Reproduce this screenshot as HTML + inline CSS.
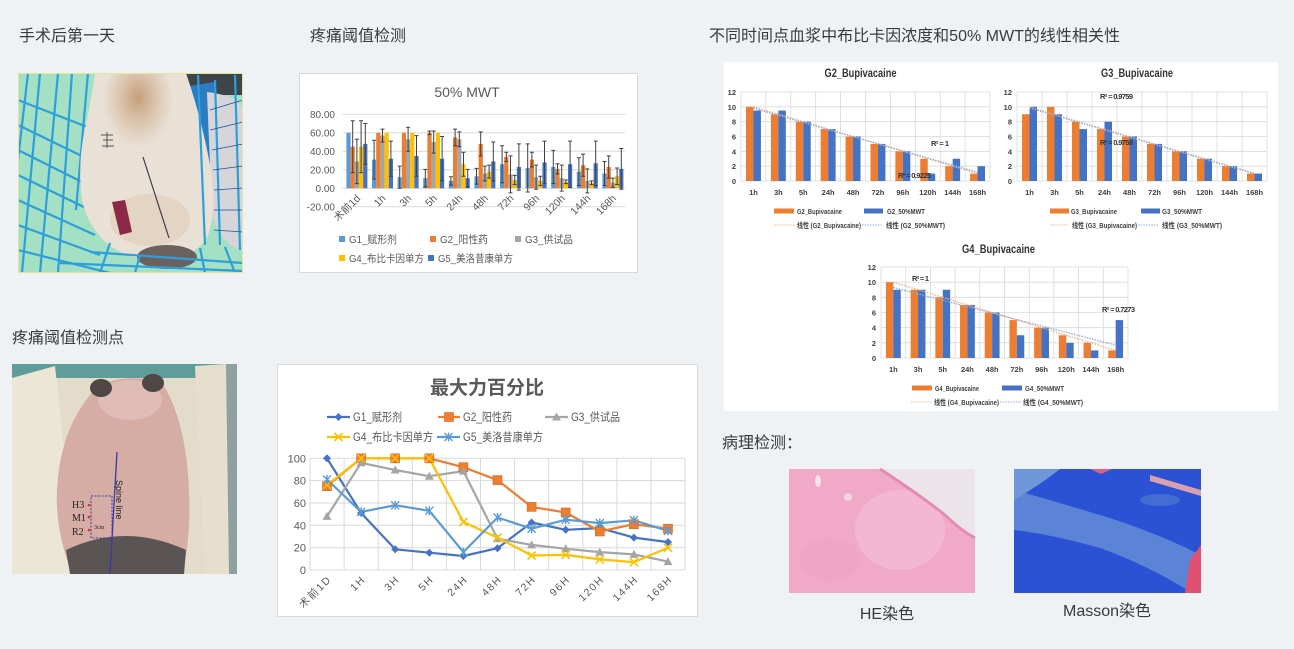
<!DOCTYPE html>
<html><head><meta charset="utf-8"><style>
html,body{margin:0;padding:0;background:#eff2f5;}
svg{display:block;font-family:"Liberation Sans","Noto Sans CJK SC",sans-serif;}
.n{font-family:"Liberation Sans Narrow","Liberation Sans","Noto Sans CJK SC",sans-serif;}
</style></head><body>
<svg width="1294" height="649" viewBox="0 0 1294 649" xmlns="http://www.w3.org/2000/svg">
<defs>
<clipPath id="p1"><rect x="18" y="73" width="225" height="200"/></clipPath>
<clipPath id="p2"><rect x="12" y="364" width="225" height="210"/></clipPath>
<clipPath id="p3"><rect x="1014" y="469" width="187" height="124"/></clipPath>
<radialGradient id="br" cx="0.5" cy="0.4" r="0.5">
<stop offset="0" stop-color="#b9875a" stop-opacity="0.75"/>
<stop offset="1" stop-color="#c9a07a" stop-opacity="0"/>
</radialGradient>
<radialGradient id="ml" cx="0.5" cy="0.5" r="0.5">
<stop offset="0" stop-color="#7fa6e0" stop-opacity="0.9"/>
<stop offset="1" stop-color="#7fa6e0" stop-opacity="0"/>
</radialGradient>
<g id="mD"><path d="M0 -4L4 0L0 4L-4 0Z" fill="#4472C4"/></g>
<g id="mS"><rect x="-4.5" y="-4.5" width="9" height="9" fill="#ED7D31" stroke="#d86a20" stroke-width=".6"/></g>
<g id="mT"><path d="M0 -4.5L4.5 3.5H-4.5Z" fill="#A5A5A5"/></g>
<g id="mX"><path d="M-4 -4L4 4M-4 4L4 -4" stroke="#FFC000" stroke-width="1.6"/></g>
<g id="mA"><path d="M-4 -4L4 4M-4 4L4 -4M0 -4.5V4.5" stroke="#5B9BD5" stroke-width="1.4"/></g>
</defs>
<rect width="1294" height="649" fill="#eff2f5"/>

<!-- Section titles -->
<g font-size="16" fill="#3a3a3a">
<text x="19" y="41">手术后第一天</text>
<text x="310" y="41">疼痛阈值检测</text>
<text x="709" y="41" textLength="411" lengthAdjust="spacingAndGlyphs">不同时间点血浆中布比卡因浓度和50% MWT的线性相关性</text>
<text x="12" y="343">疼痛阈值检测点</text>
<text x="722" y="448">病理检测：</text>
<text x="887" y="619" text-anchor="middle">HE染色</text>
<text x="1107" y="616" text-anchor="middle">Masson染色</text>
</g>

<!-- Photo 1 -->
<g clip-path="url(#p1)">
<rect x="18" y="73" width="225" height="200" fill="#a3e0c4"/>
<path d="M175 73H243V95H175Z" fill="#3d4549"/>
<path d="M178 88L214 82L220 195L182 205Z" fill="#2c7cc4"/>
<path d="M207 92Q240 96 243 110V250Q222 246 212 215Z" fill="#d6d6da"/>
<g stroke="#2f9fda" stroke-width="2.2" fill="none">
<path d="M40 73L22 273M58 73L40 273M72 73L58 273M88 73L76 210M28 73L18 160"/>
<path d="M18 100L95 130M18 125L90 160M18 150L88 185M18 175L90 210M18 200L95 235M18 225L100 255M18 250L110 273"/>
</g>
<path d="M95 73H186Q202 120 210 165Q218 210 207 238Q192 258 165 262Q135 262 110 246Q88 228 82 200Q77 160 86 125Q92 95 95 73Z" fill="#e9e1d6"/>
<ellipse cx="138" cy="108" rx="36" ry="50" fill="url(#br)"/>
<ellipse cx="150" cy="220" rx="40" ry="26" fill="#dcc6ac" opacity="0.45"/>
<ellipse cx="167" cy="257" rx="30" ry="12" fill="#6b6260"/>
<path d="M143 157L169 238" stroke="#3a3a4a" stroke-width="1.2" fill="none"/>
<path d="M112 202L125 200L132 232L120 235Z" fill="#8a2a48"/>
<path d="M101 135h12M103 140h10M102 146h12M107 132v16" stroke="#555" stroke-width="1" fill="none"/>
<g stroke="#2f9fda" stroke-width="2.2" fill="none">
<path d="M90 252L243 263M60 263L243 271M110 243L100 273M140 255L135 273M200 248L205 273M225 247L235 273"/>
<path d="M198 75L205 245M215 80L220 245M235 75L240 250"/>
</g>
<g stroke="#1f4f8f" stroke-width="0.8" fill="none">
<path d="M210 110L243 100M210 130L243 122M212 150L243 144M213 170L243 166M214 190L243 188M214 210L243 210M214 230L243 232"/>
</g>
</g>
<rect x="18.5" y="73.5" width="224" height="199" fill="none" stroke="#e6e49a"/>

<!-- Photo 2 -->
<g clip-path="url(#p2)">
<rect x="12" y="364" width="225" height="210" fill="#e3dccb"/>
<path d="M12 364H237V378H12Z" fill="#5f9c9a"/>
<path d="M12 378L55 366L78 574H12Z" fill="#ece6d7"/>
<path d="M195 366L225 364L237 370V574H205Z" fill="#e6dfce"/>
<path d="M226 364H237V574H229Z" fill="#8fa0a0"/>
<path d="M98 386Q128 372 162 383Q186 420 189 490Q191 540 182 574H72Q55 530 57 490Q60 425 98 386Z" fill="#d5ada5"/>
<ellipse cx="130" cy="400" rx="32" ry="20" fill="#dfbdb6"/>
<ellipse cx="101" cy="388" rx="11" ry="9" fill="#4f4646"/>
<ellipse cx="153" cy="383" rx="11" ry="9" fill="#4f4646"/>
<path d="M66 550Q125 522 186 550L184 574H70Z" fill="#5a5454"/>
<path d="M117 452L110 574" stroke="#3a3aa8" stroke-width="1.3"/>
<rect x="91" y="496" width="21" height="42" fill="none" stroke="#3a3aa8" stroke-dasharray="2 1.5"/>
<circle cx="89" cy="505" r="1.3" fill="#e03030"/>
<circle cx="89" cy="517" r="1.3" fill="#e03030"/>
<circle cx="89" cy="530" r="1.3" fill="#e03030"/>
<g font-family="Liberation Serif,serif" font-size="10" fill="#222">
<text x="72" y="508">H3</text><text x="72" y="521">M1</text><text x="72" y="535">R2</text>
<text x="94" y="529" font-size="6">3cm</text>
<text transform="translate(116,480) rotate(90)" font-size="9" font-family="Liberation Sans,sans-serif">Spine line</text>
</g>
</g>

<!-- Chart A: 50% MWT -->
<rect x="299.5" y="73.5" width="338" height="199" fill="#fff" stroke="#d9d9d9"/>
<text x="467" y="97" text-anchor="middle" font-size="14" fill="#595959">50% MWT</text>
<path d="M343 114.3H625M343 132.8H625M343 151.3H625M343 169.8H625M343 188.3H625M343 206.8H625" stroke="#d9d9d9" stroke-width="1"/>
<g font-size="10" fill="#595959" text-anchor="end">
<text x="335" y="117.8">80.00</text><text x="335" y="136.3">60.00</text><text x="335" y="154.8">40.00</text><text x="335" y="173.3">20.00</text><text x="335" y="191.8">0.00</text><text x="335" y="210.3">-20.00</text>
</g>
<g transform="translate(0,188.3) scale(1,-0.925)">
<g fill="#5B9BD5">
<rect x="346.4" y="0" width="4.2" height="60"/><rect x="372.0" y="0" width="4.2" height="31"/><rect x="397.6" y="0" width="4.2" height="12"/><rect x="423.2" y="0" width="4.2" height="11"/><rect x="448.8" y="0" width="4.2" height="8"/><rect x="474.4" y="0" width="4.2" height="13"/><rect x="500.0" y="0" width="4.2" height="26"/><rect x="525.6" y="0" width="4.2" height="22"/><rect x="551.2" y="0" width="4.2" height="23"/><rect x="576.8" y="0" width="4.2" height="18"/><rect x="602.4" y="0" width="4.2" height="16"/>
</g>
<g fill="#ED7D31">
<rect x="350.6" y="0" width="4.2" height="45"/><rect x="376.2" y="0" width="4.2" height="60"/><rect x="401.8" y="0" width="4.2" height="60"/><rect x="427.4" y="0" width="4.2" height="60"/><rect x="453.0" y="0" width="4.2" height="55"/><rect x="478.6" y="0" width="4.2" height="48"/><rect x="504.2" y="0" width="4.2" height="34"/><rect x="529.8" y="0" width="4.2" height="31"/><rect x="555.4" y="0" width="4.2" height="21"/><rect x="581.0" y="0" width="4.2" height="25"/><rect x="606.6" y="0" width="4.2" height="23"/>
</g>
<g fill="#A5A5A5">
<rect x="354.8" y="0" width="4.2" height="29"/><rect x="380.4" y="0" width="4.2" height="57"/><rect x="406.0" y="0" width="4.2" height="53"/><rect x="431.6" y="0" width="4.2" height="50"/><rect x="457.2" y="0" width="4.2" height="53"/><rect x="482.8" y="0" width="4.2" height="16"/><rect x="508.4" y="0" width="4.2" height="15"/><rect x="534.0" y="0" width="4.2" height="12"/><rect x="559.6" y="0" width="4.2" height="11"/><rect x="585.2" y="0" width="4.2" height="8"/><rect x="610.8" y="0" width="4.2" height="6"/>
</g>
<g fill="#FFC000">
<rect x="359.0" y="0" width="4.2" height="45"/><rect x="384.6" y="0" width="4.2" height="60"/><rect x="410.2" y="0" width="4.2" height="60"/><rect x="435.8" y="0" width="4.2" height="60"/><rect x="461.4" y="0" width="4.2" height="26"/><rect x="487.0" y="0" width="4.2" height="18"/><rect x="512.6" y="0" width="4.2" height="9"/><rect x="538.2" y="0" width="4.2" height="8"/><rect x="563.8" y="0" width="4.2" height="7"/><rect x="589.4" y="0" width="4.2" height="6"/><rect x="615.0" y="0" width="4.2" height="13"/>
</g>
<g fill="#4472C4">
<rect x="363.2" y="0" width="4.2" height="48"/><rect x="388.8" y="0" width="4.2" height="32"/><rect x="414.4" y="0" width="4.2" height="35"/><rect x="440.0" y="0" width="4.2" height="32"/><rect x="465.6" y="0" width="4.2" height="11"/><rect x="491.2" y="0" width="4.2" height="29"/><rect x="516.8" y="0" width="4.2" height="23"/><rect x="542.4" y="0" width="4.2" height="28"/><rect x="568.0" y="0" width="4.2" height="26"/><rect x="593.6" y="0" width="4.2" height="27"/><rect x="619.2" y="0" width="4.2" height="21"/>
</g>
<path vector-effect="non-scaling-stroke" stroke="#404040" stroke-width="1" fill="none" d="M352.7 17V73M350.7 17H354.7M350.7 73H354.7M356.9 5V53M354.9 5H358.9M354.9 53H358.9M361.1 17V73M359.1 17H363.1M359.1 73H363.1M365.3 26V70M363.3 26H367.3M363.3 70H367.3M374.1 10V52M372.1 10H376.1M372.1 52H376.1M382.5 50V64M380.5 50H384.5M380.5 64H384.5M390.9 13V51M388.9 13H392.9M388.9 51H392.9M399.7 0V24M397.7 0H401.7M397.7 24H401.7M408.1 40V66M406.1 40H410.1M406.1 66H410.1M416.5 13V57M414.5 13H418.5M414.5 57H418.5M425.3 1.5V20.5M423.3 1.5H427.3M423.3 20.5H427.3M429.5 58V62M427.5 58H431.5M427.5 62H431.5M433.7 38V62M431.7 38H435.7M431.7 62H435.7M442.1 8V56M440.1 8H444.1M440.1 56H444.1M450.9 3.5V12.5M448.9 3.5H452.9M448.9 12.5H452.9M455.1 46V64M453.1 46H457.1M453.1 64H457.1M459.3 45V61M457.3 45H461.3M457.3 61H461.3M463.5 13V39M461.5 13H465.5M461.5 39H465.5M467.7 1.5V20.5M465.7 1.5H469.7M465.7 20.5H469.7M476.5 4.5V21.5M474.5 4.5H478.5M474.5 21.5H478.5M480.7 35V61M478.7 35H482.7M478.7 61H482.7M484.9 8V24M482.9 8H486.9M482.9 24H486.9M489.1 11V25M487.1 11H491.1M487.1 25H491.1M493.3 8V50M491.3 8H495.3M491.3 50H495.3M502.1 6V46M500.1 6H504.1M500.1 46H504.1M506.3 29V39M504.3 29H508.3M504.3 39H508.3M510.5 -5V35M508.5 -5H512.5M508.5 35H512.5M514.7 4V14M512.7 4H516.7M512.7 14H516.7M518.9 -2V48M516.9 -2H520.9M516.9 48H520.9M527.7 -4V48M525.7 -4H529.7M525.7 48H529.7M531.9 23V39M529.9 23H533.9M529.9 39H533.9M536.1 -1V25M534.1 -1H538.1M534.1 25H538.1M540.3 3V13M538.3 3H542.3M538.3 13H542.3M544.5 5V51M542.5 5H546.5M542.5 51H546.5M553.3 5V41M551.3 5H555.3M551.3 41H555.3M557.5 15.5V26.5M555.5 15.5H559.5M555.5 26.5H559.5M561.7 -3V25M559.7 -3H563.7M559.7 25H563.7M565.9 5V9M563.9 5H567.9M563.9 9H567.9M570.1 1V51M568.1 1H572.1M568.1 51H572.1M578.9 3V33M576.9 3H580.9M576.9 33H580.9M583.1 13V37M581.1 13H585.1M581.1 37H585.1M587.3 -5V21M585.3 -5H589.3M585.3 21H589.3M591.5 4V8M589.5 4H593.5M589.5 8H593.5M595.7 3V51M593.7 3H597.7M593.7 51H597.7M604.5 3V29M602.5 3H606.5M602.5 29H606.5M608.7 11V35M606.7 11H610.7M606.7 35H610.7M612.9 1V11M610.9 1H614.9M610.9 11H614.9M617.1 4V22M615.1 4H619.1M615.1 22H619.1M621.3 -1V43M619.3 -1H623.3M619.3 43H623.3"/>
</g>
<g font-size="10.5" fill="#595959" text-anchor="end">
<text transform="translate(361,199) rotate(-45)">术前1d</text>
<text transform="translate(386.4,199) rotate(-45)">1h</text>
<text transform="translate(412,199) rotate(-45)">3h</text>
<text transform="translate(437.6,199) rotate(-45)">5h</text>
<text transform="translate(463.2,199) rotate(-45)">24h</text>
<text transform="translate(488.8,199) rotate(-45)">48h</text>
<text transform="translate(514.4,199) rotate(-45)">72h</text>
<text transform="translate(540,199) rotate(-45)">96h</text>
<text transform="translate(565.6,199) rotate(-45)">120h</text>
<text transform="translate(591.2,199) rotate(-45)">144h</text>
<text transform="translate(616.8,199) rotate(-45)">168h</text>
</g>
<g font-size="10.5" fill="#595959">
<rect x="339" y="236" width="6" height="6" fill="#5B9BD5"/><text x="349" y="243" textLength="48" lengthAdjust="spacingAndGlyphs">G1_赋形剂</text>
<rect x="430" y="236" width="6" height="6" fill="#ED7D31"/><text x="440" y="243" textLength="48" lengthAdjust="spacingAndGlyphs">G2_阳性药</text>
<rect x="515" y="236" width="6" height="6" fill="#A5A5A5"/><text x="525" y="243" textLength="48" lengthAdjust="spacingAndGlyphs">G3_供试品</text>
<rect x="339" y="255" width="6" height="6" fill="#FFC000"/><text x="349" y="262" textLength="75" lengthAdjust="spacingAndGlyphs">G4_布比卡因单方</text>
<rect x="428" y="255" width="6" height="6" fill="#4472C4"/><text x="438" y="262" textLength="75" lengthAdjust="spacingAndGlyphs">G5_美洛昔康单方</text>
</g>

<!-- Chart B: line chart -->
<rect x="277.5" y="364.5" width="420" height="252" fill="#fff" stroke="#d9d9d9"/>
<text x="487" y="394" text-anchor="middle" font-size="19" font-weight="bold" fill="#595959">最大力百分比</text>
<path d="M310 570H685M310 547.7H685M310 525.3H685M310 503H685M310 480.6H685M310 458.3H685M310 458.3V570M344.1 458.3V570M378.2 458.3V570M412.3 458.3V570M446.4 458.3V570M480.5 458.3V570M514.6 458.3V570M548.7 458.3V570M582.8 458.3V570M616.9 458.3V570M651 458.3V570M685 458.3V570" stroke="#d9d9d9" stroke-width="1" fill="none"/>
<g font-size="11" fill="#595959" text-anchor="end">
<text x="306" y="574">0</text><text x="306" y="551.7">20</text><text x="306" y="529.3">40</text><text x="306" y="507">60</text><text x="306" y="484.6">80</text><text x="306" y="462.3">100</text>
</g>
<g font-size="10.5" fill="#595959" text-anchor="end" letter-spacing="1.5">
<text transform="translate(332,580) rotate(-45)">术前1D</text>
<text transform="translate(366.1,580) rotate(-45)">1H</text>
<text transform="translate(400.2,580) rotate(-45)">3H</text>
<text transform="translate(434.3,580) rotate(-45)">5H</text>
<text transform="translate(468.4,580) rotate(-45)">24H</text>
<text transform="translate(502.5,580) rotate(-45)">48H</text>
<text transform="translate(536.6,580) rotate(-45)">72H</text>
<text transform="translate(570.7,580) rotate(-45)">96H</text>
<text transform="translate(604.8,580) rotate(-45)">120H</text>
<text transform="translate(638.9,580) rotate(-45)">144H</text>
<text transform="translate(673,580) rotate(-45)">168H</text>
</g>
<g fill="none" stroke-width="2.2" stroke-linejoin="round">
<polyline stroke="#4472C4" points="327,458.3 361.1,513 395.2,549.3 429.3,552.7 463.4,556 497.5,548.2 531.6,522.5 565.7,529.8 599.8,528.1 633.9,537.6 668,542.1"/>
<polyline stroke="#ED7D31" points="327,486.2 361.1,458.3 395.2,458.3 429.3,458.3 463.4,467.2 497.5,480.1 531.6,506.9 565.7,512.5 599.8,531.5 633.9,524.2 668,528.7"/>
<polyline stroke="#A5A5A5" points="327,516.4 361.1,462.8 395.2,470 429.3,476.2 463.4,471.1 497.5,538.7 531.6,544.9 565.7,548.8 599.8,552.1 633.9,554.4 668,561.6"/>
<polyline stroke="#FFC000" points="327,485.1 361.1,458.3 395.2,458.3 429.3,458.3 463.4,522 497.5,537.6 531.6,555.5 565.7,554.9 599.8,559.4 633.9,562.2 668,547.7"/>
<polyline stroke="#5B9BD5" points="327,479.5 361.1,511.9 395.2,505.2 429.3,510.8 463.4,552.1 497.5,517.5 531.6,528.7 565.7,519.7 599.8,523.1 633.9,520.3 668,530.9"/>
</g>
<use href="#mD" x="327" y="458.3"/><use href="#mD" x="361.1" y="513"/><use href="#mD" x="395.2" y="549.3"/><use href="#mD" x="429.3" y="552.7"/><use href="#mD" x="463.4" y="556"/><use href="#mD" x="497.5" y="548.2"/><use href="#mD" x="531.6" y="522.5"/><use href="#mD" x="565.7" y="529.8"/><use href="#mD" x="599.8" y="528.1"/><use href="#mD" x="633.9" y="537.6"/><use href="#mD" x="668" y="542.1"/>
<use href="#mS" x="327" y="486.2"/><use href="#mS" x="361.1" y="458.3"/><use href="#mS" x="395.2" y="458.3"/><use href="#mS" x="429.3" y="458.3"/><use href="#mS" x="463.4" y="467.2"/><use href="#mS" x="497.5" y="480.1"/><use href="#mS" x="531.6" y="506.9"/><use href="#mS" x="565.7" y="512.5"/><use href="#mS" x="599.8" y="531.5"/><use href="#mS" x="633.9" y="524.2"/><use href="#mS" x="668" y="528.7"/>
<use href="#mT" x="327" y="516.4"/><use href="#mT" x="361.1" y="462.8"/><use href="#mT" x="395.2" y="470"/><use href="#mT" x="429.3" y="476.2"/><use href="#mT" x="463.4" y="471.1"/><use href="#mT" x="497.5" y="538.7"/><use href="#mT" x="531.6" y="544.9"/><use href="#mT" x="565.7" y="548.8"/><use href="#mT" x="599.8" y="552.1"/><use href="#mT" x="633.9" y="554.4"/><use href="#mT" x="668" y="561.6"/>
<use href="#mX" x="327" y="485.1"/><use href="#mX" x="361.1" y="458.3"/><use href="#mX" x="395.2" y="458.3"/><use href="#mX" x="429.3" y="458.3"/><use href="#mX" x="463.4" y="522"/><use href="#mX" x="497.5" y="537.6"/><use href="#mX" x="531.6" y="555.5"/><use href="#mX" x="565.7" y="554.9"/><use href="#mX" x="599.8" y="559.4"/><use href="#mX" x="633.9" y="562.2"/><use href="#mX" x="668" y="547.7"/>
<use href="#mA" x="327" y="479.5"/><use href="#mA" x="361.1" y="511.9"/><use href="#mA" x="395.2" y="505.2"/><use href="#mA" x="429.3" y="510.8"/><use href="#mA" x="463.4" y="552.1"/><use href="#mA" x="497.5" y="517.5"/><use href="#mA" x="531.6" y="528.7"/><use href="#mA" x="565.7" y="519.7"/><use href="#mA" x="599.8" y="523.1"/><use href="#mA" x="633.9" y="520.3"/><use href="#mA" x="668" y="530.9"/>
<!-- legend B -->
<g stroke-width="2.2">
<path d="M327 417H350" stroke="#4472C4"/><path d="M438 417H460" stroke="#ED7D31"/><path d="M545 417H568" stroke="#A5A5A5"/>
<path d="M327 437H350" stroke="#FFC000"/><path d="M437 437H460" stroke="#5B9BD5"/>
</g>
<use href="#mD" x="338.5" y="417"/><use href="#mS" x="449" y="417"/><use href="#mT" x="556.5" y="417"/><use href="#mX" x="338.5" y="437"/><use href="#mA" x="448.5" y="437"/>
<g font-size="11.5" fill="#595959">
<text x="353" y="421" textLength="49" lengthAdjust="spacingAndGlyphs">G1_赋形剂</text><text x="463" y="421" textLength="49" lengthAdjust="spacingAndGlyphs">G2_阳性药</text><text x="571" y="421" textLength="49" lengthAdjust="spacingAndGlyphs">G3_供试品</text>
<text x="353" y="441" textLength="80" lengthAdjust="spacingAndGlyphs">G4_布比卡因单方</text><text x="463" y="441" textLength="80" lengthAdjust="spacingAndGlyphs">G5_美洛昔康单方</text>
</g>

<!-- Right panel -->
<rect x="724" y="62" width="554" height="349" fill="#fff"/>
<g stroke="#d9d9d9" stroke-width="0.8" fill="none">
<path d="M741 181H990M741 166.2H990M741 151.3H990M741 136.5H990M741 121.7H990M741 106.8H990M741 92H990M741 92V181M765.9 92V181M790.8 92V181M815.7 92V181M840.6 92V181M865.5 92V181M890.4 92V181M915.3 92V181M940.2 92V181M965.1 92V181M990 92V181"/>
<path d="M1017 181H1267M1017 166.2H1267M1017 151.3H1267M1017 136.5H1267M1017 121.7H1267M1017 106.8H1267M1017 92H1267M1017 92V181M1042 92V181M1067 92V181M1092 92V181M1117 92V181M1142 92V181M1167 92V181M1192 92V181M1217 92V181M1242 92V181M1267 92V181"/>
<path d="M881 358H1128M881 342.8H1128M881 327.7H1128M881 312.5H1128M881 297.3H1128M881 282.2H1128M881 267H1128M881 267V358M905.7 267V358M930.4 267V358M955.1 267V358M979.8 267V358M1004.5 267V358M1029.2 267V358M1053.9 267V358M1078.6 267V358M1103.3 267V358M1128 267V358"/>
</g>
<!-- G2 bars -->
<g transform="translate(741,181) scale(24.9,-7.417)">
<g fill="#ED7D31"><rect x="0.2" y="0" width="0.3" height="10"/><rect x="1.2" y="0" width="0.3" height="9"/><rect x="2.2" y="0" width="0.3" height="8"/><rect x="3.2" y="0" width="0.3" height="7"/><rect x="4.2" y="0" width="0.3" height="6"/><rect x="5.2" y="0" width="0.3" height="5"/><rect x="6.2" y="0" width="0.3" height="4"/><rect x="7.2" y="0" width="0.3" height="3"/><rect x="8.2" y="0" width="0.3" height="2"/><rect x="9.2" y="0" width="0.3" height="1"/></g>
<g fill="#4472C4"><rect x="0.5" y="0" width="0.3" height="9.5"/><rect x="1.5" y="0" width="0.3" height="9.5"/><rect x="2.5" y="0" width="0.3" height="8"/><rect x="3.5" y="0" width="0.3" height="7"/><rect x="4.5" y="0" width="0.3" height="6"/><rect x="5.5" y="0" width="0.3" height="5"/><rect x="6.5" y="0" width="0.3" height="4"/><rect x="7.5" y="0" width="0.3" height="1"/><rect x="8.5" y="0" width="0.3" height="3"/><rect x="9.5" y="0" width="0.3" height="2"/></g>
</g>
<!-- G3 bars -->
<g transform="translate(1017,181) scale(25,-7.417)">
<g fill="#ED7D31"><rect x="0.2" y="0" width="0.3" height="9"/><rect x="1.2" y="0" width="0.3" height="10"/><rect x="2.2" y="0" width="0.3" height="8"/><rect x="3.2" y="0" width="0.3" height="7"/><rect x="4.2" y="0" width="0.3" height="6"/><rect x="5.2" y="0" width="0.3" height="5"/><rect x="6.2" y="0" width="0.3" height="4"/><rect x="7.2" y="0" width="0.3" height="3"/><rect x="8.2" y="0" width="0.3" height="2"/><rect x="9.2" y="0" width="0.3" height="1"/></g>
<g fill="#4472C4"><rect x="0.5" y="0" width="0.3" height="10"/><rect x="1.5" y="0" width="0.3" height="9"/><rect x="2.5" y="0" width="0.3" height="7"/><rect x="3.5" y="0" width="0.3" height="8"/><rect x="4.5" y="0" width="0.3" height="6"/><rect x="5.5" y="0" width="0.3" height="5"/><rect x="6.5" y="0" width="0.3" height="4"/><rect x="7.5" y="0" width="0.3" height="3"/><rect x="8.5" y="0" width="0.3" height="2"/><rect x="9.5" y="0" width="0.3" height="1"/></g>
</g>
<!-- G4 bars -->
<g transform="translate(881,358) scale(24.7,-7.583)">
<g fill="#ED7D31"><rect x="0.2" y="0" width="0.3" height="10"/><rect x="1.2" y="0" width="0.3" height="9"/><rect x="2.2" y="0" width="0.3" height="8"/><rect x="3.2" y="0" width="0.3" height="7"/><rect x="4.2" y="0" width="0.3" height="6"/><rect x="5.2" y="0" width="0.3" height="5"/><rect x="6.2" y="0" width="0.3" height="4"/><rect x="7.2" y="0" width="0.3" height="3"/><rect x="8.2" y="0" width="0.3" height="2"/><rect x="9.2" y="0" width="0.3" height="1"/></g>
<g fill="#4472C4"><rect x="0.5" y="0" width="0.3" height="9"/><rect x="1.5" y="0" width="0.3" height="9"/><rect x="2.5" y="0" width="0.3" height="9"/><rect x="3.5" y="0" width="0.3" height="7"/><rect x="4.5" y="0" width="0.3" height="6"/><rect x="5.5" y="0" width="0.3" height="3"/><rect x="6.5" y="0" width="0.3" height="4"/><rect x="7.5" y="0" width="0.3" height="2"/><rect x="8.5" y="0" width="0.3" height="1"/><rect x="9.5" y="0" width="0.3" height="5"/></g>
</g>
<!-- trendlines -->
<g fill="none" stroke-width="1.3" stroke-dasharray="1.5 1.2">
<path d="M753.45 106.83L977.55 173.58" stroke="#F4B183"/>
<path d="M753.45 108.24L977.55 172.17" stroke="#8FAADC"/>
<path d="M1029.5 107.24L1254.5 173.18" stroke="#F4B183"/>
<path d="M1029.5 107.9L1254.5 173.8" stroke="#8FAADC"/>
<path d="M893.35 282.17L1115.65 350.42" stroke="#F4B183"/>
<path d="M893.35 287.48L1115.65 345.11" stroke="#8FAADC"/>
</g>
<!-- titles -->
<g class="n" font-size="12" font-weight="bold" fill="#333" text-anchor="middle">
<text x="860.5" y="77" textLength="72" lengthAdjust="spacingAndGlyphs">G2_Bupivacaine</text>
<text x="1137" y="77" textLength="72" lengthAdjust="spacingAndGlyphs">G3_Bupivacaine</text>
<text x="998.5" y="253" textLength="73" lengthAdjust="spacingAndGlyphs">G4_Bupivacaine</text>
</g>
<!-- axis labels -->
<g class="n" font-size="7.5" font-weight="bold" fill="#404040" text-anchor="end">
<text x="736" y="184">0</text><text x="736" y="169.2">2</text><text x="736" y="154.3">4</text><text x="736" y="139.5">6</text><text x="736" y="124.7">8</text><text x="736" y="109.8">10</text><text x="736" y="95">12</text>
<text x="1012" y="184">0</text><text x="1012" y="169.2">2</text><text x="1012" y="154.3">4</text><text x="1012" y="139.5">6</text><text x="1012" y="124.7">8</text><text x="1012" y="109.8">10</text><text x="1012" y="95">12</text>
<text x="876" y="361">0</text><text x="876" y="345.8">2</text><text x="876" y="330.7">4</text><text x="876" y="315.5">6</text><text x="876" y="300.3">8</text><text x="876" y="285.2">10</text><text x="876" y="270">12</text>
</g>
<g class="n" font-size="7.5" font-weight="bold" fill="#404040" text-anchor="middle">
<text x="753.45" y="195">1h</text><text x="778.35" y="195">3h</text><text x="803.25" y="195">5h</text><text x="828.15" y="195">24h</text><text x="853.05" y="195">48h</text><text x="877.95" y="195">72h</text><text x="902.85" y="195">96h</text><text x="927.75" y="195">120h</text><text x="952.65" y="195">144h</text><text x="977.55" y="195">168h</text>
<text x="1029.5" y="195">1h</text><text x="1054.5" y="195">3h</text><text x="1079.5" y="195">5h</text><text x="1104.5" y="195">24h</text><text x="1129.5" y="195">48h</text><text x="1154.5" y="195">72h</text><text x="1179.5" y="195">96h</text><text x="1204.5" y="195">120h</text><text x="1229.5" y="195">144h</text><text x="1254.5" y="195">168h</text>
<text x="893.35" y="372">1h</text><text x="918.05" y="372">3h</text><text x="942.75" y="372">5h</text><text x="967.45" y="372">24h</text><text x="992.15" y="372">48h</text><text x="1016.85" y="372">72h</text><text x="1041.55" y="372">96h</text><text x="1066.25" y="372">120h</text><text x="1090.95" y="372">144h</text><text x="1115.65" y="372">168h</text>
</g>
<!-- R² -->
<g class="n" font-size="7.5" font-weight="bold" fill="#333">
<text x="931" y="146" textLength="18">R² = 1</text>
<text x="898" y="178" textLength="33">R² = 0.9225</text>
<text x="1100" y="99" textLength="33">R² = 0.9759</text>
<text x="1100" y="145" textLength="33">R² = 0.9759</text>
<text x="912" y="281" textLength="17">R² = 1</text>
<text x="1102" y="312" textLength="33">R² = 0.7273</text>
</g>
<!-- legends right -->
<g fill="#ED7D31"><rect x="774" y="208.5" width="20" height="5"/><rect x="1050" y="208.5" width="19" height="5"/><rect x="912" y="385.5" width="20" height="5"/></g>
<g fill="#4472C4"><rect x="864" y="208.5" width="19" height="5"/><rect x="1141" y="208.5" width="19" height="5"/><rect x="1002" y="385.5" width="20" height="5"/></g>
<g stroke-width="1" stroke-dasharray="1.5 1.2">
<path d="M774 225H794M1050 225H1069M911 402H932" stroke="#F4B183"/>
<path d="M862 225H882M1138 225H1158M1000 402H1021" stroke="#8FAADC"/>
</g>
<g class="n" font-size="7.5" font-weight="bold" fill="#404040">
<text x="797" y="214" textLength="45" lengthAdjust="spacingAndGlyphs">G2_Bupivacaine</text>
<text x="887" y="214" textLength="38" lengthAdjust="spacingAndGlyphs">G2_50%MWT</text>
<text x="797" y="228" textLength="64" lengthAdjust="spacingAndGlyphs">线性 (G2_Bupivacaine)</text>
<text x="886" y="228" textLength="59" lengthAdjust="spacingAndGlyphs">线性 (G2_50%MWT)</text>
<text x="1071" y="214" textLength="46" lengthAdjust="spacingAndGlyphs">G3_Bupivacaine</text>
<text x="1162" y="214" textLength="40" lengthAdjust="spacingAndGlyphs">G3_50%MWT</text>
<text x="1072" y="228" textLength="65" lengthAdjust="spacingAndGlyphs">线性 (G3_Bupivacaine)</text>
<text x="1162" y="228" textLength="60" lengthAdjust="spacingAndGlyphs">线性 (G3_50%MWT)</text>
<text x="935" y="391" textLength="44" lengthAdjust="spacingAndGlyphs">G4_Bupivacaine</text>
<text x="1025" y="391" textLength="39" lengthAdjust="spacingAndGlyphs">G4_50%MWT</text>
<text x="934" y="405" textLength="65" lengthAdjust="spacingAndGlyphs">线性 (G4_Bupivacaine)</text>
<text x="1023" y="405" textLength="60" lengthAdjust="spacingAndGlyphs">线性 (G4_50%MWT)</text>
</g>

<!-- Pathology HE -->
<rect x="789" y="469" width="186" height="124" fill="#f0aac8"/>
<ellipse cx="900" cy="530" rx="45" ry="40" fill="#f4bcd4" opacity="0.7"/>
<ellipse cx="830" cy="560" rx="30" ry="22" fill="#eea4c3" opacity="0.7"/>
<path d="M880 469H975V538Q960 530 945 515Q920 495 880 469Z" fill="#ebe5ea"/>
<path d="M880 469Q920 495 945 515Q960 530 975 538" stroke="#e48ab4" stroke-width="3" fill="none"/>
<ellipse cx="818" cy="481" rx="3" ry="6" fill="#f8e0ea"/>
<circle cx="848" cy="497" r="4" fill="#f6d2e2"/>
<!-- Pathology Masson -->
<g clip-path="url(#p3)">
<rect x="1014" y="469" width="187" height="124" fill="#2b52d4"/>
<path d="M1014 490Q1050 500 1100 515Q1150 530 1201 555V593H1192Q1150 566 1100 548Q1050 534 1014 530Z" fill="#5b84d6"/>
<path d="M1014 469H1060Q1040 485 1014 500Z" fill="#6f96d8"/>
<ellipse cx="1160" cy="500" rx="20" ry="6" fill="#4a74d2" opacity="0.8"/>
<path d="M1090 469H1112L1101 474Z" fill="#e06080"/>
<path d="M1150 475L1201 490V496L1150 481Z" fill="#d9a0b0"/>
<path d="M1190 560L1201 545V593H1185Z" fill="#e05070"/>
</g>
</svg>
</body></html>
